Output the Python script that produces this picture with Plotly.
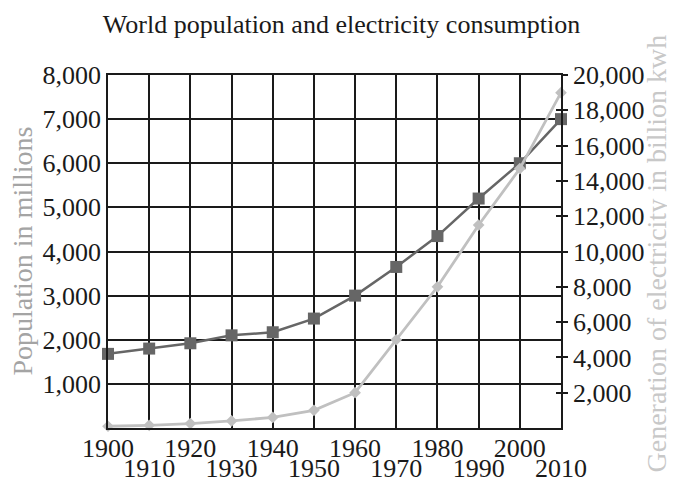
import plotly.graph_objects as go

years = [1900, 1910, 1920, 1930, 1940, 1950, 1960, 1970, 1980, 1990, 2000, 2010]
population = [1680, 1800, 1920, 2100, 2170, 2480, 3000, 3650, 4350, 5200, 6000, 7000]
electricity = [100, 150, 250, 400, 600, 1000, 2000, 5000, 8000, 11500, 14700, 19000]
upper_row_labels = ["1900", "", "1920", "", "1940", "", "1960", "", "1980", "", "2000", ""]
lower_row_years = [1910, 1930, 1950, 1970, 1990, 2010]
lower_row_labels = ["1910", "1930", "1950", "1970", "1990", "2010"]
left_ticks = [1000, 2000, 3000, 4000, 5000, 6000, 7000, 8000]
right_ticks = [2000, 4000, 6000, 8000, 10000, 12000, 14000, 16000, 18000, 20000]

FONT = "Liberation Serif"
GRID = "#1a1a1a"
TXT = "#1a1a1a"
POP_C = "#666666"
ELE_C = "#c0c0c0"
FS = 26
AXT_FS = 28

# the page body adds an 8px offset, so the figure is laid out 8px smaller
W, H = 667, 475
L, R, T, B = 100, 114, 67, 55

fig = go.Figure()
fig.add_trace(go.Scatter(
    x=years, y=electricity, yaxis="y2", mode="lines+markers",
    line=dict(color=ELE_C, width=2.8),
    marker=dict(symbol="diamond", size=9, color=ELE_C),
    cliponaxis=False, showlegend=False, name="Electricity"))
fig.add_trace(go.Scatter(
    x=years, y=population, yaxis="y", mode="lines+markers",
    line=dict(color=POP_C, width=2.5),
    marker=dict(symbol="square", size=12, color=POP_C),
    cliponaxis=False, showlegend=False, name="Population"))
# invisible trace carrying the second row of year labels and inner right ticks
fig.add_trace(go.Scatter(x=[years[0]], y=[electricity[0]], xaxis="x2", yaxis="y3",
                         mode="markers", marker=dict(opacity=0),
                         showlegend=False, hoverinfo="skip"))

fig.update_layout(
    width=W, height=H,
    margin=dict(l=L, r=R, t=T, b=B),
    paper_bgcolor="white", plot_bgcolor="white",
    font=dict(family=FONT, color=TXT),
    title=dict(text="World population and electricity consumption",
               x=0.5, xanchor="center", y=1 - 7 / H, yanchor="top",
               pad=dict(t=0, b=0, l=0, r=0),
               font=dict(family=FONT, size=FS, color=TXT)),
    xaxis=dict(range=[1900, 2010], tickvals=years, ticktext=upper_row_labels,
               tickangle=0, automargin=False,
               showgrid=True, gridcolor=GRID, gridwidth=1.5,
               showline=True, linecolor=GRID, linewidth=1.5, mirror=True,
               ticks="", zeroline=False, ticklabelstandoff=-4,
               tickfont=dict(family=FONT, size=FS, color=TXT)),
    xaxis2=dict(range=[1900, 2010], tickvals=lower_row_years, ticktext=lower_row_labels,
                overlaying="x", side="bottom", anchor="y",
                tickangle=0, automargin=False,
                showgrid=False, showline=False, ticks="", zeroline=False,
                ticklabelstandoff=22,
                tickfont=dict(family=FONT, size=FS, color=TXT)),
    yaxis=dict(range=[0, 8000], tickvals=left_ticks, tickformat=",d",
               automargin=False,
               showgrid=True, gridcolor=GRID, gridwidth=1.5,
               showline=True, linecolor=GRID, linewidth=1.5,
               ticks="", zeroline=False,
               tickfont=dict(family=FONT, size=FS, color=TXT)),
    yaxis2=dict(range=[0, 20000], tickvals=right_ticks, tickformat=",d",
                overlaying="y", side="right", showgrid=False, automargin=False,
                showline=True, linecolor=GRID, linewidth=1.5,
                ticks="outside", ticklen=5, tickwidth=1.5, tickcolor=GRID,
                zeroline=False,
                tickfont=dict(family=FONT, size=FS, color=TXT)),
    yaxis3=dict(range=[0, 20000], tickvals=right_ticks, overlaying="y",
                side="right", showgrid=False, showline=False, automargin=False,
                ticks="inside", ticklen=5, tickwidth=1.5, tickcolor=GRID,
                showticklabels=False, zeroline=False),
    annotations=[
        dict(text="Population in millions", textangle=-90, showarrow=False,
             xref="paper", yref="paper", x=0, y=0.5, xshift=-86,
             xanchor="center", yanchor="middle",
             font=dict(family=FONT, size=AXT_FS, color="#a4a4a4")),
        dict(text="Generation of electricity in billion kwh", textangle=-90,
             showarrow=False, xref="paper", yref="paper", x=1, y=0.5, xshift=95,
             yshift=-2, xanchor="center", yanchor="middle",
             font=dict(family=FONT, size=AXT_FS, color="#c8c8c8")),
    ],
)

fig.write_html("out.html")
